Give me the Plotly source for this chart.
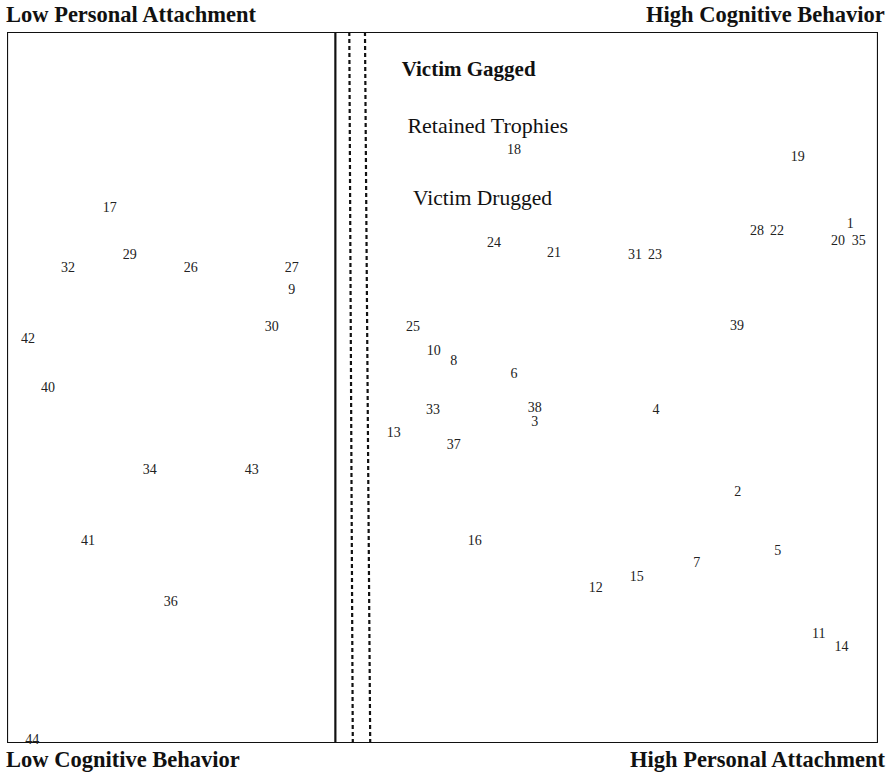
import plotly.graph_objects as go

# Case numbers and their positions on the two-dimensional solution
case_ids = [str(i) for i in range(1, 45)]
dim1 = [96.8, 83.9, 60.6, 74.5, 88.5, 58.2, 79.2, 51.3, 32.7, 49.0,
        93.2, 67.6, 44.4, 95.8, 72.3, 53.7, 11.8, 58.2, 90.8, 95.4,
        62.8, 88.4, 74.4, 55.9, 46.6, 21.1, 32.7, 86.1, 14.1, 30.4,
        72.1, 7.0, 48.9, 16.4, 97.8, 18.8, 51.3, 60.6, 83.8, 4.7,
        9.3, 2.4, 28.1, 2.9]
dim2 = [72.9, 35.2, 45.1, 46.8, 26.9, 51.8, 25.2, 53.6, 63.7, 55.1,
        15.2, 21.8, 43.5, 13.5, 23.3, 28.4, 75.2, 83.4, 82.4, 70.5,
        68.8, 72.0, 68.6, 70.3, 58.5, 66.8, 66.8, 72.0, 68.6, 58.5,
        68.6, 66.8, 46.8, 38.3, 70.5, 19.8, 41.8, 47.0, 58.6, 49.9,
        28.3, 56.8, 38.3, 0.4]

# Crime-scene variables plotted in the same space
variable_names = ["<b>Victim Gagged</b>", "Retained Trophies", "Victim Drugged"]
var_dim1 = [53.0, 55.2, 54.6]
var_dim2 = [94.5, 86.6, 76.4]
variable_sizes = [21, 22, 21.5]

# Region boundaries along dimension 1
solid_boundary = 37.7
dashed_boundaries = [(39.3, 39.7), (41.1, 41.7)]

# Pole labels
corner_labels = [
    ("<b>Low Personal Attachment</b>", 0.0, 1.0, "left", "bottom"),
    ("<b>High Cognitive Behavior</b>", 1.008, 1.0, "right", "bottom"),
    ("<b>Low Cognitive Behavior</b>", 0.0, 0.0, "left", "top"),
    ("<b>High Personal Attachment</b>", 1.008, 0.0, "right", "top"),
]

FONT = "Liberation Serif, Times New Roman, serif"

fig = go.Figure()

# Outer frame
fig.add_shape(type="rect", xref="x", yref="y", x0=0, x1=100, y0=0, y1=100,
              line=dict(color="#111", width=2.2), layer="below")
# Solid divider
fig.add_shape(type="line", xref="x", yref="y", x0=solid_boundary, x1=solid_boundary,
              y0=0, y1=100, line=dict(color="#111", width=2.2))
# Dashed dividers
for top, bottom in dashed_boundaries:
    fig.add_shape(type="line", xref="x", yref="y", x0=top, x1=bottom, y0=100, y1=0,
                  line=dict(color="#111", width=2.2, dash="4px,3px"))

fig.add_trace(go.Scatter(
    x=dim1, y=dim2, mode="text", text=case_ids,
    textfont=dict(family=FONT, size=14, color="#222"),
    textposition="middle center", cliponaxis=False, hoverinfo="text",
))

fig.add_trace(go.Scatter(
    x=var_dim1, y=var_dim2, mode="text", text=variable_names,
    textfont=dict(family=FONT, size=variable_sizes, color="#111"),
    textposition="middle center", cliponaxis=False, hoverinfo="skip",
))

for text, x, y, xa, ya in corner_labels:
    fig.add_annotation(text=text, xref="paper", yref="paper", x=x, y=y,
                       xanchor=xa, yanchor=ya, showarrow=False,
                       font=dict(family=FONT, size=22.5, color="#111"),
                       xshift=-3 if xa == "left" else 2,
                       yshift=3 if ya == "bottom" else -2)

fig.update_xaxes(range=[0, 100], visible=False, showgrid=False, zeroline=False)
fig.update_yaxes(range=[0, 100], visible=False, showgrid=False, zeroline=False)

fig.update_layout(
    width=892, height=773,
    margin=dict(l=7, r=14, t=32, b=30),
    paper_bgcolor="white", plot_bgcolor="white",
    showlegend=False,
)

fig.write_html("out.html")
